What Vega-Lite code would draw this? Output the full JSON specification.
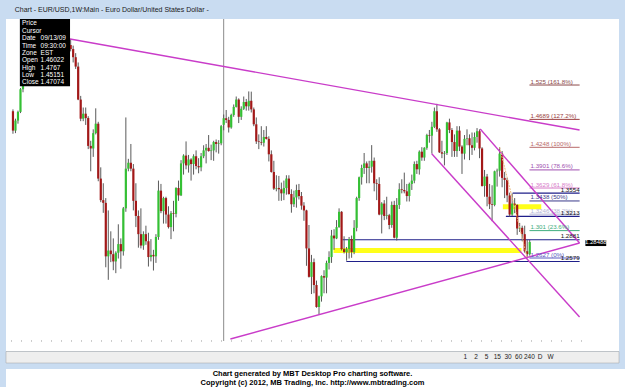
{
  "$schema": "https://vega.github.io/schema/vega-lite/v6.json",
  "background": "#c9dcf1",
  "padding": {"left": 5, "top": 5, "right": 0, "bottom": 0},
  "spacing": 0,
  "title": {"text": "Chart - EUR/USD,1W:Main - Euro Dollar/United States Dollar -", "anchor": "start", "fontSize": 7, "fontWeight": "normal", "font": "Liberation Sans", "color": "#1a1a1a", "dx": 9, "offset": 6},
  "datasets": {
    "candles": [
      {"i":0,"o":1.482,"h":1.485,"l":1.446,"c":1.451},{"i":1,"o":1.451,"h":1.470,"l":1.447,"c":1.467},{"i":2,"o":1.467,"h":1.483,"l":1.462,"c":1.481},{"i":3,"o":1.481,"h":1.520,"l":1.479,"c":1.518},{"i":4,"o":1.518,"h":1.546,"l":1.513,"c":1.535},
      {"i":5,"o":1.535,"h":1.567,"l":1.530,"c":1.565},{"i":6,"o":1.565,"h":1.590,"l":1.539,"c":1.544},{"i":7,"o":1.544,"h":1.584,"l":1.541,"c":1.581},{"i":8,"o":1.581,"h":1.588,"l":1.538,"c":1.573},{"i":9,"o":1.573,"h":1.591,"l":1.565,"c":1.581},
      {"i":10,"o":1.581,"h":1.599,"l":1.572,"c":1.582},{"i":11,"o":1.582,"h":1.602,"l":1.556,"c":1.560},{"i":12,"o":1.560,"h":1.571,"l":1.529,"c":1.546},{"i":13,"o":1.546,"h":1.559,"l":1.529,"c":1.545},{"i":14,"o":1.545,"h":1.558,"l":1.537,"c":1.553},
      {"i":15,"o":1.553,"h":1.581,"l":1.551,"c":1.576},{"i":16,"o":1.576,"h":1.582,"l":1.547,"c":1.554},{"i":17,"o":1.554,"h":1.584,"l":1.528,"c":1.578},{"i":18,"o":1.578,"h":1.579,"l":1.530,"c":1.540},{"i":19,"o":1.540,"h":1.567,"l":1.536,"c":1.560},
      {"i":20,"o":1.560,"h":1.582,"l":1.548,"c":1.578},{"i":21,"o":1.578,"h":1.595,"l":1.563,"c":1.567},{"i":22,"o":1.567,"h":1.595,"l":1.562,"c":1.593},{"i":23,"o":1.593,"h":1.6038,"l":1.582,"c":1.586},{"i":24,"o":1.586,"h":1.592,"l":1.563,"c":1.572},
      {"i":25,"o":1.572,"h":1.579,"l":1.552,"c":1.556},{"i":26,"o":1.556,"h":1.563,"l":1.500,"c":1.501},{"i":27,"o":1.501,"h":1.507,"l":1.466,"c":1.470},{"i":28,"o":1.470,"h":1.488,"l":1.466,"c":1.478},{"i":29,"o":1.478,"h":1.488,"l":1.460,"c":1.471},
      {"i":30,"o":1.471,"h":1.474,"l":1.422,"c":1.427},{"i":31,"o":1.427,"h":1.435,"l":1.388,"c":1.423},{"i":32,"o":1.423,"h":1.453,"l":1.410,"c":1.447},{"i":33,"o":1.447,"h":1.4867,"l":1.445,"c":1.462},{"i":34,"o":1.462,"h":1.465,"l":1.373,"c":1.377},
      {"i":35,"o":1.377,"h":1.394,"l":1.342,"c":1.345},{"i":36,"o":1.345,"h":1.370,"l":1.3265,"c":1.341},{"i":37,"o":1.341,"h":1.348,"l":1.250,"c":1.265},{"i":38,"o":1.265,"h":1.330,"l":1.233,"c":1.273},{"i":39,"o":1.273,"h":1.300,"l":1.257,"c":1.268},
      {"i":40,"o":1.268,"h":1.290,"l":1.246,"c":1.258},{"i":41,"o":1.258,"h":1.272,"l":1.242,"c":1.270},{"i":42,"o":1.270,"h":1.310,"l":1.262,"c":1.282},{"i":43,"o":1.282,"h":1.290,"l":1.248,"c":1.272},{"i":44,"o":1.272,"h":1.335,"l":1.266,"c":1.333},
      {"i":45,"o":1.333,"h":1.472,"l":1.328,"c":1.392},{"i":46,"o":1.392,"h":1.407,"l":1.388,"c":1.401},{"i":47,"o":1.401,"h":1.430,"l":1.388,"c":1.392},{"i":48,"o":1.392,"h":1.399,"l":1.330,"c":1.344},{"i":49,"o":1.344,"h":1.370,"l":1.306,"c":1.322},
      {"i":50,"o":1.322,"h":1.330,"l":1.277,"c":1.296},{"i":51,"o":1.296,"h":1.333,"l":1.276,"c":1.280},{"i":52,"o":1.280,"h":1.300,"l":1.274,"c":1.296},{"i":53,"o":1.296,"h":1.308,"l":1.281,"c":1.286},{"i":54,"o":1.286,"h":1.298,"l":1.251,"c":1.264},
      {"i":55,"o":1.264,"h":1.289,"l":1.258,"c":1.267},{"i":56,"o":1.267,"h":1.274,"l":1.2456,"c":1.265},{"i":57,"o":1.265,"h":1.296,"l":1.256,"c":1.292},{"i":58,"o":1.292,"h":1.374,"l":1.288,"c":1.359},{"i":59,"o":1.359,"h":1.369,"l":1.326,"c":1.329},
      {"i":60,"o":1.329,"h":1.350,"l":1.311,"c":1.348},{"i":61,"o":1.348,"h":1.350,"l":1.311,"c":1.324},{"i":62,"o":1.324,"h":1.336,"l":1.304,"c":1.306},{"i":63,"o":1.306,"h":1.329,"l":1.289,"c":1.326},{"i":64,"o":1.326,"h":1.344,"l":1.300,"c":1.325},
      {"i":65,"o":1.325,"h":1.364,"l":1.320,"c":1.363},{"i":66,"o":1.363,"h":1.374,"l":1.344,"c":1.352},{"i":67,"o":1.352,"h":1.405,"l":1.351,"c":1.400},{"i":68,"o":1.400,"h":1.414,"l":1.383,"c":1.412},{"i":69,"o":1.412,"h":1.434,"l":1.391,"c":1.397},
      {"i":70,"o":1.397,"h":1.413,"l":1.386,"c":1.406},{"i":71,"o":1.406,"h":1.408,"l":1.374,"c":1.399},{"i":72,"o":1.399,"h":1.414,"l":1.383,"c":1.411},{"i":73,"o":1.411,"h":1.420,"l":1.391,"c":1.396},{"i":74,"o":1.396,"h":1.408,"l":1.385,"c":1.394},
      {"i":75,"o":1.394,"h":1.416,"l":1.388,"c":1.411},{"i":76,"o":1.411,"h":1.428,"l":1.408,"c":1.420},{"i":77,"o":1.420,"h":1.430,"l":1.400,"c":1.424},{"i":78,"o":1.424,"h":1.444,"l":1.418,"c":1.419},{"i":79,"o":1.419,"h":1.429,"l":1.405,"c":1.420},
      {"i":80,"o":1.420,"h":1.435,"l":1.404,"c":1.433},{"i":81,"o":1.433,"h":1.437,"l":1.417,"c":1.430},{"i":82,"o":1.430,"h":1.436,"l":1.415,"c":1.431},{"i":83,"o":1.431,"h":1.460,"l":1.428,"c":1.458},{"i":84,"o":1.46022,"h":1.4767,"l":1.45151,"c":1.47074},
      {"i":85,"o":1.4707,"h":1.484,"l":1.463,"c":1.468},{"i":86,"o":1.468,"h":1.473,"l":1.448,"c":1.456},{"i":87,"o":1.456,"h":1.478,"l":1.454,"c":1.476},{"i":88,"o":1.476,"h":1.493,"l":1.473,"c":1.489},{"i":89,"o":1.489,"h":1.506,"l":1.488,"c":1.501},
      {"i":90,"o":1.501,"h":1.503,"l":1.463,"c":1.473},{"i":91,"o":1.473,"h":1.490,"l":1.468,"c":1.486},{"i":92,"o":1.486,"h":1.506,"l":1.484,"c":1.497},{"i":93,"o":1.497,"h":1.502,"l":1.483,"c":1.490},{"i":94,"o":1.490,"h":1.5144,"l":1.483,"c":1.499},
      {"i":95,"o":1.499,"h":1.514,"l":1.480,"c":1.485},{"i":96,"o":1.485,"h":1.488,"l":1.458,"c":1.461},{"i":97,"o":1.461,"h":1.472,"l":1.430,"c":1.434},{"i":98,"o":1.434,"h":1.445,"l":1.422,"c":1.433},{"i":99,"o":1.433,"h":1.458,"l":1.428,"c":1.432},
      {"i":100,"o":1.432,"h":1.452,"l":1.426,"c":1.441},{"i":101,"o":1.441,"h":1.458,"l":1.437,"c":1.438},{"i":102,"o":1.438,"h":1.442,"l":1.403,"c":1.414},{"i":103,"o":1.414,"h":1.420,"l":1.386,"c":1.387},{"i":104,"o":1.387,"h":1.404,"l":1.360,"c":1.362},
      {"i":105,"o":1.362,"h":1.382,"l":1.358,"c":1.363},{"i":106,"o":1.363,"h":1.381,"l":1.344,"c":1.361},{"i":107,"o":1.361,"h":1.371,"l":1.344,"c":1.355},{"i":108,"o":1.355,"h":1.374,"l":1.345,"c":1.363},{"i":109,"o":1.363,"h":1.382,"l":1.353,"c":1.377},
      {"i":110,"o":1.377,"h":1.382,"l":1.353,"c":1.354},{"i":111,"o":1.354,"h":1.361,"l":1.3267,"c":1.339},{"i":112,"o":1.339,"h":1.359,"l":1.335,"c":1.349},{"i":113,"o":1.349,"h":1.368,"l":1.334,"c":1.360},{"i":114,"o":1.360,"h":1.369,"l":1.346,"c":1.351},
      {"i":115,"o":1.351,"h":1.357,"l":1.331,"c":1.337},{"i":116,"o":1.337,"h":1.342,"l":1.315,"c":1.330},{"i":117,"o":1.330,"h":1.331,"l":1.252,"c":1.276},{"i":118,"o":1.276,"h":1.309,"l":1.236,"c":1.237},{"i":119,"o":1.237,"h":1.267,"l":1.214,"c":1.257},
      {"i":120,"o":1.257,"h":1.262,"l":1.215,"c":1.226},{"i":121,"o":1.226,"h":1.232,"l":1.196,"c":1.197},{"i":122,"o":1.197,"h":1.212,"l":1.1876,"c":1.211},{"i":123,"o":1.211,"h":1.239,"l":1.204,"c":1.238},{"i":124,"o":1.238,"h":1.246,"l":1.215,"c":1.236},
      {"i":125,"o":1.236,"h":1.259,"l":1.215,"c":1.256},{"i":126,"o":1.256,"h":1.272,"l":1.247,"c":1.264},{"i":127,"o":1.264,"h":1.302,"l":1.256,"c":1.294},{"i":128,"o":1.294,"h":1.303,"l":1.274,"c":1.290},{"i":129,"o":1.290,"h":1.316,"l":1.289,"c":1.306},
      {"i":130,"o":1.306,"h":1.333,"l":1.305,"c":1.328},{"i":131,"o":1.328,"h":1.329,"l":1.273,"c":1.275},{"i":132,"o":1.275,"h":1.293,"l":1.269,"c":1.271},{"i":133,"o":1.271,"h":1.278,"l":1.259,"c":1.275},{"i":134,"o":1.275,"h":1.292,"l":1.262,"c":1.289},
      {"i":135,"o":1.289,"h":1.294,"l":1.263,"c":1.271},{"i":136,"o":1.271,"h":1.316,"l":1.268,"c":1.305},{"i":137,"o":1.305,"h":1.350,"l":1.300,"c":1.348},{"i":138,"o":1.348,"h":1.380,"l":1.344,"c":1.379},{"i":139,"o":1.379,"h":1.398,"l":1.368,"c":1.393},
      {"i":140,"o":1.393,"h":1.416,"l":1.384,"c":1.400},{"i":141,"o":1.400,"h":1.403,"l":1.370,"c":1.393},{"i":142,"o":1.393,"h":1.404,"l":1.370,"c":1.395},{"i":143,"o":1.395,"h":1.4282,"l":1.386,"c":1.404},{"i":144,"o":1.404,"h":1.409,"l":1.358,"c":1.370},
      {"i":145,"o":1.370,"h":1.376,"l":1.345,"c":1.369},{"i":146,"o":1.369,"h":1.379,"l":1.323,"c":1.324},{"i":147,"o":1.324,"h":1.342,"l":1.297,"c":1.340},{"i":148,"o":1.340,"h":1.345,"l":1.316,"c":1.322},{"i":149,"o":1.322,"h":1.350,"l":1.317,"c":1.323},
      {"i":150,"o":1.323,"h":1.325,"l":1.303,"c":1.309},{"i":151,"o":1.309,"h":1.343,"l":1.305,"c":1.338},{"i":152,"o":1.338,"h":1.344,"l":1.290,"c":1.291},{"i":153,"o":1.291,"h":1.348,"l":1.287,"c":1.338},{"i":154,"o":1.338,"h":1.370,"l":1.332,"c":1.361},
      {"i":155,"o":1.361,"h":1.376,"l":1.355,"c":1.360},{"i":156,"o":1.360,"h":1.386,"l":1.355,"c":1.358},{"i":157,"o":1.358,"h":1.369,"l":1.343,"c":1.351},{"i":158,"o":1.351,"h":1.371,"l":1.343,"c":1.369},{"i":159,"o":1.369,"h":1.383,"l":1.360,"c":1.374},
      {"i":160,"o":1.374,"h":1.403,"l":1.370,"c":1.399},{"i":161,"o":1.399,"h":1.404,"l":1.384,"c":1.391},{"i":162,"o":1.391,"h":1.420,"l":1.383,"c":1.418},{"i":163,"o":1.418,"h":1.425,"l":1.404,"c":1.409},{"i":164,"o":1.409,"h":1.425,"l":1.404,"c":1.424},
      {"i":165,"o":1.424,"h":1.446,"l":1.421,"c":1.444},{"i":166,"o":1.444,"h":1.452,"l":1.432,"c":1.443},{"i":167,"o":1.443,"h":1.465,"l":1.415,"c":1.457},{"i":168,"o":1.457,"h":1.488,"l":1.455,"c":1.482},{"i":169,"o":1.482,"h":1.494,"l":1.449,"c":1.453},
      {"i":170,"o":1.453,"h":1.455,"l":1.416,"c":1.417},{"i":171,"o":1.417,"h":1.435,"l":1.408,"c":1.415},{"i":172,"o":1.415,"h":1.419,"l":1.397,"c":1.416},{"i":173,"o":1.416,"h":1.465,"l":1.413,"c":1.464},{"i":174,"o":1.464,"h":1.470,"l":1.447,"c":1.452},
      {"i":175,"o":1.452,"h":1.455,"l":1.410,"c":1.433},{"i":176,"o":1.433,"h":1.445,"l":1.410,"c":1.419},{"i":177,"o":1.419,"h":1.458,"l":1.410,"c":1.451},{"i":178,"o":1.451,"h":1.458,"l":1.419,"c":1.426},{"i":179,"o":1.426,"h":1.428,"l":1.384,"c":1.415},
      {"i":180,"o":1.415,"h":1.444,"l":1.406,"c":1.438},{"i":181,"o":1.438,"h":1.453,"l":1.428,"c":1.439},{"i":182,"o":1.439,"h":1.445,"l":1.405,"c":1.428},{"i":183,"o":1.428,"h":1.448,"l":1.413,"c":1.424},{"i":184,"o":1.424,"h":1.448,"l":1.420,"c":1.441},
      {"i":185,"o":1.441,"h":1.455,"l":1.432,"c":1.450},{"i":186,"o":1.450,"h":1.453,"l":1.408,"c":1.423},{"i":187,"o":1.423,"h":1.425,"l":1.365,"c":1.366},{"i":188,"o":1.366,"h":1.390,"l":1.350,"c":1.380},{"i":189,"o":1.380,"h":1.384,"l":1.336,"c":1.350},
      {"i":190,"o":1.350,"h":1.369,"l":1.332,"c":1.339},{"i":191,"o":1.339,"h":1.367,"l":1.3145,"c":1.338},{"i":192,"o":1.338,"h":1.389,"l":1.336,"c":1.388},{"i":193,"o":1.388,"h":1.392,"l":1.365,"c":1.389},{"i":194,"o":1.389,"h":1.425,"l":1.380,"c":1.415},
      {"i":195,"o":1.415,"h":1.419,"l":1.364,"c":1.378},{"i":196,"o":1.378,"h":1.387,"l":1.348,"c":1.375},{"i":197,"o":1.375,"h":1.378,"l":1.342,"c":1.352},{"i":198,"o":1.352,"h":1.356,"l":1.321,"c":1.324},{"i":199,"o":1.324,"h":1.355,"l":1.322,"c":1.340},
      {"i":200,"o":1.340,"h":1.348,"l":1.326,"c":1.338},{"i":201,"o":1.338,"h":1.339,"l":1.295,"c":1.304},{"i":202,"o":1.304,"h":1.312,"l":1.299,"c":1.305},{"i":203,"o":1.305,"h":1.308,"l":1.286,"c":1.296},{"i":204,"o":1.296,"h":1.308,"l":1.270,"c":1.272},
      {"i":205,"o":1.272,"h":1.288,"l":1.2624,"c":1.268},{"i":206,"o":1.268,"h":1.288,"l":1.266,"c":1.28488}
    ],
    "fib": [
      {"p":1.525,"t":"1.525 (161.8%)"},{"p":1.4689,"t":"1.4689 (127.2%)"},{"p":1.4248,"t":"1.4248 (100%)"},{"p":1.3901,"t":"1.3901 (78.6%)"},{"p":1.3629,"t":"1.3629 (61.8%)"},{"p":1.3438,"t":"1.3438 (50%)"},{"p":1.3246,"t":"1.3246 (38.2%)"},{"p":1.301,"t":"1.301 (23.6%)"},{"p":1.2627,"t":"1.2627 (0%)"}
    ],
    "hl": [
      {"p":1.3554,"a":199.2,"b":225.9,"t":"1.3554"},{"p":1.3213,"a":196.5,"b":225.9,"t":"1.3213"},{"p":1.2881,"a":131.4,"b":225.9,"t":"1.2881"},{"p":1.2579,"a":132.9,"b":225.9,"t":"1.2579"}
    ],
    "yb": [
      {"a":127.8,"b":202.7,"p":1.2731},{"a":195.3,"b":210.6,"p":1.3354}
    ],
    "tl": [
      {"id":"L1","i":22.75,"p":1.6035},{"id":"L1","i":225.88,"p":1.4519},
      {"id":"L2","i":86.67,"p":1.1559},{"id":"L2","i":225.88,"p":1.2835},
      {"id":"L3","i":186.27,"p":1.4535},{"id":"L3","i":225.88,"p":1.2835},
      {"id":"L4","i":166.94,"p":1.4149},{"id":"L4","i":225.88,"p":1.1840}
    ],
    "fd": [
      {"i":194.0,"p":1.4248},{"i":205.0,"p":1.2627}
    ],
    "tip": [
      {"k":0,"label":"Price","value":""},{"k":1,"label":"Cursor","value":""},{"k":2,"label":"Date","value":"09/13/09"},{"k":3,"label":"Time","value":"09:30:00"},{"k":4,"label":"Zone","value":"EST"},{"k":5,"label":"Open","value":"1.46022"},{"k":6,"label":"High","value":"1.4767"},{"k":7,"label":"Low","value":"1.45151"},{"k":8,"label":"Close","value":"1.47074"}
    ]
  },
  "vconcat": [
    {
      "width": 613,
      "height": 332,
      "view": {"fill": "#ffffff", "stroke": null},
      "resolve": {"scale": {"y": "independent"}},
      "layer": [
        {
          "layer": [
            {
              "data": {"name": "yb"},
              "mark": {"type": "rule", "color": "#ffff1a", "strokeWidth": 5},
              "encoding": {
                "x": {"field": "a", "type": "quantitative", "scale": {"domain": [-0.784, 239.6], "nice": false, "zero": false}, "axis": null},
                "x2": {"field": "b"},
                "y": {"field": "p", "type": "quantitative", "scale": {"type": "log", "domain": [1.14087, 1.6389], "nice": false}, "axis": null}
              }
            },
            {
              "data": {"name": "hl"},
              "mark": {"type": "rule", "color": "#1f1f8a", "strokeWidth": 1.2},
              "encoding": {
                "x": {"field": "a", "type": "quantitative", "scale": {"domain": [-0.784, 239.6], "nice": false, "zero": false}, "axis": null},
                "x2": {"field": "b"},
                "y": {"field": "p", "type": "quantitative", "scale": {"type": "log", "domain": [1.14087, 1.6389], "nice": false}, "axis": null}
              }
            },
            {
              "data": {"name": "fib"},
              "mark": {"type": "rule", "strokeWidth": 1},
              "encoding": {
                "x": {"datum": 205.9, "type": "quantitative", "scale": {"domain": [-0.784, 239.6], "nice": false, "zero": false}, "axis": null},
                "x2": {"datum": 225.9},
                "y": {"field": "p", "type": "quantitative", "scale": {"type": "log", "domain": [1.14087, 1.6389], "nice": false}, "axis": null},
                "color": {"field": "t", "type": "nominal", "legend": null, "scale": {"domain": ["1.525 (161.8%)","1.4689 (127.2%)","1.4248 (100%)","1.3901 (78.6%)","1.3629 (61.8%)","1.3438 (50%)","1.3246 (38.2%)","1.301 (23.6%)","1.2627 (0%)"], "range": ["#8c4a4a","#9a3d3d","#b86a6a","#a050b0","#d77ac8","#3a3a8a","#b4b4d4","#3fae7e","#5a5ac0"]}}
              }
            },
            {
              "data": {"values": [{}]},
              "mark": {"type": "rule", "color": "#9a9a9a", "strokeWidth": 1, "strokeDash": [1, 9]},
              "encoding": {
                "x": {"datum": -0.784, "type": "quantitative", "scale": {"domain": [-0.784, 239.6], "nice": false, "zero": false}, "axis": null},
                "x2": {"datum": 227.8},
                "y": {"datum": 1.1534, "type": "quantitative", "scale": {"type": "log", "domain": [1.14087, 1.6389], "nice": false}, "axis": null}
              }
            },
            {
              "data": {"values": [{}]},
              "mark": {"type": "rule", "color": "#8c8c8c", "strokeWidth": 1},
              "encoding": {
                "x": {"datum": 84, "type": "quantitative", "scale": {"domain": [-0.784, 239.6], "nice": false, "zero": false}, "axis": null},
                "y": {"datum": 1.6389, "type": "quantitative", "scale": {"type": "log", "domain": [1.14087, 1.6389], "nice": false}, "axis": null},
                "y2": {"datum": 1.1534}
              }
            },
            {
              "data": {"name": "candles"},
              "mark": {"type": "rule", "color": "#5a5a5a", "strokeWidth": 1},
              "encoding": {
                "x": {"field": "i", "type": "quantitative", "scale": {"domain": [-0.784, 239.6], "nice": false, "zero": false}, "axis": null},
                "y": {"field": "l", "type": "quantitative", "scale": {"type": "log", "domain": [1.14087, 1.6389], "nice": false}, "axis": null},
                "y2": {"field": "h"}
              }
            },
            {
              "data": {"name": "candles"},
              "mark": {"type": "bar", "width": 2.2},
              "encoding": {
                "x": {"field": "i", "type": "quantitative", "scale": {"domain": [-0.784, 239.6], "nice": false, "zero": false}, "axis": null},
                "y": {"field": "o", "type": "quantitative", "scale": {"type": "log", "domain": [1.14087, 1.6389], "nice": false}, "axis": null},
                "y2": {"field": "c"},
                "color": {"condition": {"test": "datum.c >= datum.o", "value": "#34c034"}, "value": "#a31818"}
              }
            },
            {
              "data": {"name": "tl"},
              "mark": {"type": "line", "color": "#c93cc9", "strokeWidth": 1.4},
              "encoding": {
                "x": {"field": "i", "type": "quantitative", "scale": {"domain": [-0.784, 239.6], "nice": false, "zero": false}, "axis": null},
                "y": {"field": "p", "type": "quantitative", "scale": {"type": "log", "domain": [1.14087, 1.6389], "nice": false}, "axis": null},
                "detail": {"field": "id"}
              }
            },
            {
              "data": {"name": "fd"},
              "mark": {"type": "line", "color": "#eab97a", "strokeWidth": 1, "strokeDash": [2, 1]},
              "encoding": {
                "x": {"field": "i", "type": "quantitative", "scale": {"domain": [-0.784, 239.6], "nice": false, "zero": false}, "axis": null},
                "y": {"field": "p", "type": "quantitative", "scale": {"type": "log", "domain": [1.14087, 1.6389], "nice": false}, "axis": null}
              }
            },
            {
              "data": {"name": "fib"},
              "mark": {"type": "text", "align": "left", "baseline": "bottom", "dy": -0.5, "fontSize": 6.2, "font": "Liberation Sans"},
              "encoding": {
                "x": {"datum": 206.3, "type": "quantitative", "scale": {"domain": [-0.784, 239.6], "nice": false, "zero": false}, "axis": null},
                "y": {"field": "p", "type": "quantitative", "scale": {"type": "log", "domain": [1.14087, 1.6389], "nice": false}, "axis": null},
                "text": {"field": "t"},
                "color": {"field": "t", "type": "nominal", "legend": null, "scale": {"domain": ["1.525 (161.8%)","1.4689 (127.2%)","1.4248 (100%)","1.3901 (78.6%)","1.3629 (61.8%)","1.3438 (50%)","1.3246 (38.2%)","1.301 (23.6%)","1.2627 (0%)"], "range": ["#8c4a4a","#9a3d3d","#b86a6a","#a050b0","#d77ac8","#3a3a8a","#b4b4d4","#3fae7e","#5a5ac0"]}}
              }
            },
            {
              "data": {"name": "hl"},
              "mark": {"type": "text", "align": "right", "baseline": "bottom", "dy": -0.5, "fontSize": 6.2, "font": "Liberation Sans", "color": "#111111"},
              "encoding": {
                "x": {"field": "b", "type": "quantitative", "scale": {"domain": [-0.784, 239.6], "nice": false, "zero": false}, "axis": null},
                "y": {"field": "p", "type": "quantitative", "scale": {"type": "log", "domain": [1.14087, 1.6389], "nice": false}, "axis": null},
                "text": {"field": "t"}
              }
            },
            {
              "data": {"values": [{"a": 228.2, "b": 236.5, "lo": 1.2793, "hi": 1.2877}]},
              "mark": {"type": "rect", "color": "#000000"},
              "encoding": {
                "x": {"field": "a", "type": "quantitative", "scale": {"domain": [-0.784, 239.6], "nice": false, "zero": false}, "axis": null},
                "x2": {"field": "b"},
                "y": {"field": "lo", "type": "quantitative", "scale": {"type": "log", "domain": [1.14087, 1.6389], "nice": false}, "axis": null},
                "y2": {"field": "hi"}
              }
            },
            {
              "data": {"values": [{"p": 1.28488, "t": "1.28488"}]},
              "mark": {"type": "text", "align": "center", "baseline": "middle", "fontSize": 6, "font": "Liberation Sans", "color": "#ffffff"},
              "encoding": {
                "x": {"datum": 232.35, "type": "quantitative", "scale": {"domain": [-0.784, 239.6], "nice": false, "zero": false}, "axis": null},
                "y": {"field": "p", "type": "quantitative", "scale": {"type": "log", "domain": [1.14087, 1.6389], "nice": false}, "axis": null},
                "text": {"field": "t"}
              }
            }
          ]
        },
        {
          "layer": [
            {
              "data": {"values": [{"a": 2.75, "b": 22.75, "top": -0.6, "bottom": 8.5}]},
              "mark": {"type": "rect", "color": "#000000"},
              "encoding": {
                "x": {"field": "a", "type": "quantitative", "scale": {"domain": [-0.784, 239.6], "nice": false, "zero": false}, "axis": null},
                "x2": {"field": "b"},
                "y": {"field": "top", "type": "quantitative", "scale": {"domain": [-0.6, 44.4], "reverse": true, "nice": false, "zero": false}, "axis": null},
                "y2": {"field": "bottom"}
              }
            },
            {
              "data": {"name": "tip"},
              "mark": {"type": "text", "align": "left", "baseline": "middle", "fontSize": 6.5, "font": "Liberation Sans", "color": "#ffffff"},
              "encoding": {
                "x": {"datum": 3.6, "type": "quantitative", "scale": {"domain": [-0.784, 239.6], "nice": false, "zero": false}, "axis": null},
                "y": {"field": "k", "type": "quantitative", "scale": {"domain": [-0.6, 44.4], "reverse": true, "nice": false, "zero": false}, "axis": null},
                "text": {"field": "label"}
              }
            },
            {
              "data": {"name": "tip"},
              "mark": {"type": "text", "align": "left", "baseline": "middle", "fontSize": 6.5, "font": "Liberation Sans", "color": "#ffffff"},
              "encoding": {
                "x": {"datum": 11.0, "type": "quantitative", "scale": {"domain": [-0.784, 239.6], "nice": false, "zero": false}, "axis": null},
                "y": {"field": "k", "type": "quantitative", "scale": {"domain": [-0.6, 44.4], "reverse": true, "nice": false, "zero": false}, "axis": null},
                "text": {"field": "value"}
              }
            }
          ]
        }
      ]
    },
    {
      "width": 613,
      "height": 18,
      "resolve": {"scale": {"x": "independent"}},
      "layer": [
        {
          "data": {"values": [{}]},
          "mark": {"type": "rect", "color": "#eeeeee", "stroke": "#a0a0a0", "strokeWidth": 0.5},
          "encoding": {
            "x": {"datum": 0, "type": "quantitative", "scale": {"domain": [0, 1], "nice": false}, "axis": null},
            "x2": {"datum": 1},
            "y": {"datum": 0.5, "type": "quantitative", "scale": {"domain": [0, 18], "reverse": true, "nice": false, "zero": false}, "axis": null},
            "y2": {"datum": 12}
          }
        },
        {
          "data": {"values": [{"tab": "1"}, {"tab": "2"}, {"tab": "5"}, {"tab": "15"}, {"tab": "30"}, {"tab": "60"}, {"tab": "240"}, {"tab": "D"}, {"tab": "W"}]},
          "mark": {"type": "text", "fontSize": 6.5, "font": "Liberation Sans", "color": "#222222", "baseline": "middle"},
          "encoding": {
            "x": {"field": "tab", "type": "ordinal", "sort": null, "scale": {"type": "point", "range": [454, 550]}, "axis": null},
            "y": {"datum": 6, "type": "quantitative", "scale": {"domain": [0, 18], "reverse": true, "nice": false, "zero": false}, "axis": null},
            "text": {"field": "tab"}
          }
        }
      ]
    },
    {
      "width": 620,
      "height": 19,
      "view": {"fill": "#ffffff", "stroke": null},
      "data": {"values": [{"n": 1, "t": "Chart generated by MBT Desktop Pro charting software."}, {"n": 2, "t": "Copyright (c) 2012, MB Trading, Inc. http://www.mbtrading.com"}]},
      "mark": {"type": "text", "font": "'Liberation Sans Narrow', 'Liberation Sans', sans-serif", "fontWeight": "bold", "fontSize": 7.5, "dx": -3.5, "color": "#000000"},
      "encoding": {
        "y": {"field": "n", "type": "ordinal", "axis": null},
        "text": {"field": "t"}
      }
    }
  ],
  "config": {"view": {"stroke": null}}
}
